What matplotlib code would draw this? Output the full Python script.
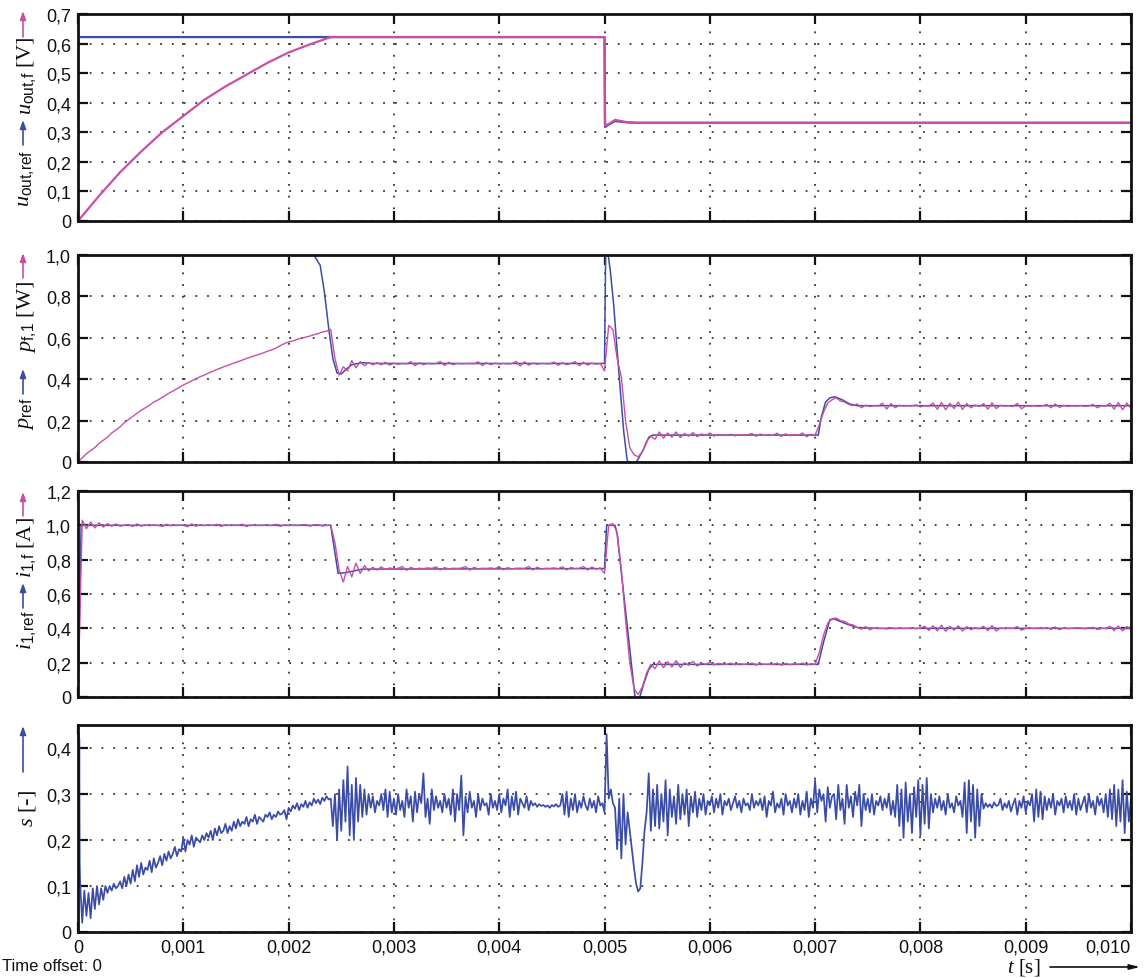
import numpy as np
import matplotlib
matplotlib.use("Agg")
import matplotlib.pyplot as plt
from matplotlib.ticker import FuncFormatter, MultipleLocator

# ---------------- data ----------------
# panel 1: output voltage
u_ref_t = [0, 0.005, 0.005005, 0.00505, 0.0051, 0.0052, 0.0053, 0.01]
u_ref_v = [0.622, 0.622, 0.318, 0.328, 0.338, 0.334, 0.332, 0.332]
u_f_t = [0, 0.0002, 0.0004, 0.0006, 0.0008, 0.001, 0.0012, 0.0014, 0.0016, 0.0018,
         0.002, 0.0022, 0.0024, 0.005, 0.005005, 0.00505, 0.0051, 0.0052, 0.0053, 0.01]
u_f_v = [0, 0.085, 0.165, 0.235, 0.30, 0.355, 0.41, 0.455, 0.495, 0.535,
         0.57, 0.597, 0.622, 0.622, 0.322, 0.33, 0.342, 0.335, 0.332, 0.332]

# panel 2: power
p_ref_t = [0, 0.00224, 0.0023, 0.00234, 0.00238, 0.00242, 0.00246, 0.0025, 0.00255, 0.0026,
           0.0027, 0.0028, 0.005, 0.005012, 0.00503, 0.005056, 0.005088, 0.005119, 0.005151, 0.005183,
           0.005215, 0.00524, 0.00529, 0.005326, 0.005374, 0.005421, 0.00546, 0.00703, 0.00706, 0.0071,
           0.00714, 0.00719, 0.00726, 0.00733, 0.0074, 0.01]
p_ref_v = [1.0, 1.0, 0.95, 0.82, 0.65, 0.50, 0.43, 0.425, 0.45, 0.47,
           0.48, 0.476, 0.476, 1.06, 1.02, 0.92, 0.755, 0.546, 0.34, 0.145,
           0.01, -0.01, -0.01, 0.02, 0.065, 0.12, 0.13, 0.13, 0.22, 0.29,
           0.31, 0.315, 0.30, 0.28, 0.272, 0.272]
p_f_dt = 0.00004
p_f_milli = [0, 20, 40, 55, 70, 90, 105, 120, 140, 155,
             170, 190, 205, 220, 235, 250, 262, 275, 290, 300,
             312, 325, 337, 348, 360, 372, 382, 392, 402, 412,
             420, 430, 438, 447, 455, 463, 470, 478, 485, 492,
             500, 507, 514, 520, 527, 535, 542, 550, 562, 572,
             580, 585, 592, 598, 603, 608, 615, 620, 628, 632,
             640, 500, 420, 460, 440, 490, 455, 485, 465, 480,
             470,
             480, 470, 482, 468, 478, 472, 476, 474, 485, 465,
             480, 470, 476, 474, 475, 486, 466, 482, 470, 476,
             474, 475, 476, 474, 484, 466, 480, 470, 478, 473,
             476, 474, 475, 486, 464, 484, 468, 478, 472, 476,
             475, 474, 483, 467, 480, 470, 476, 485, 465, 482, 468, 478, 472, 476,
             440, 660, 640, 500, 410, 200, 70, 35, 25, 50, 100, 125,
             110, 145, 115, 140, 120, 145, 118, 138, 125, 142,
             122, 136, 128, 140, 125, 132, 130, 128, 134, 126,
             132, 130, 131, 138, 124, 135, 128, 131, 129, 139,
             123, 136, 127, 133, 129, 140, 122, 134,
             130, 180, 240, 285, 300, 310, 295, 290, 278, 272,
             280, 262, 275, 268, 272, 270, 284, 256, 282, 262,
             274, 270, 272, 271, 276, 266, 272, 270, 285, 255,
             288, 252, 284, 258, 290, 254, 282, 262, 276, 268,
             282, 255, 286, 258, 274, 270, 272, 268, 283, 257,
             271, 270, 272, 269, 271, 278, 262, 280, 264, 274,
             268, 272, 270, 273, 269, 271, 278, 262, 272, 270,
             284, 255, 288, 252, 285, 260]

# panel 3: current
i_ref_t = [0, 0.00003, 0.0024, 0.00247, 0.00255, 0.0027, 0.005, 0.00502, 0.0051, 0.00512,
           0.00529, 0.00533, 0.00538, 0.00542, 0.00546, 0.00703, 0.00708, 0.00714, 0.00718, 0.0073,
           0.0074, 0.0076, 0.01]
i_ref_v = [0, 1.0, 1.0, 0.72, 0.725, 0.745, 0.748, 1.0, 1.0, 0.95,
           0.0, -0.01, 0.09, 0.16, 0.19, 0.19, 0.32, 0.45, 0.455, 0.425,
           0.405, 0.4, 0.4]
i_f_dt = 0.00004
i_f_milli = [0, 1030, 980, 1020, 985, 1015, 990, 1010, 995, 1008, 995,
             1000, 1005, 993, 1008, 995, 1003, 998, 1002, 1000, 994,
             1006, 998, 1002, 1000, 1001, 992, 1008, 995, 1004, 999,
             1001, 1000, 1006, 994, 1003, 999, 1001, 1000, 1007, 993,
             1002, 999, 1000, 1001, 999, 1000, 1006, 994, 1003, 999,
             1000, 1001, 1000, 1005, 995, 1002, 1004, 996, 1000, 1001,
             900, 740, 670, 760, 700, 780, 720, 765, 735, 755,
             740, 758, 742, 752, 746, 750, 760, 738, 755, 745,
             750, 748, 752, 749, 758, 740, 754, 746, 750, 749,
             751, 760, 739, 755, 746, 750, 749, 752, 748, 758,
             741, 754, 746, 750, 751, 749, 760, 740, 756, 745,
             750, 749, 752, 747, 758, 741, 754, 748, 750, 760, 740, 757, 744, 752,
             720, 1000, 1010, 960, 740, 450, 200, 50, 15, 60, 140, 190,
             165, 210, 170, 205, 175, 212, 172, 200, 185, 208,
             180, 198, 190, 203, 186, 196, 192, 190, 197, 188,
             194, 190, 192, 198, 186, 195, 190, 192, 189, 198,
             185, 196, 188, 194, 190, 198, 186, 194,
             190, 260, 360, 430, 455, 460, 445, 440, 425, 420,
             405, 395, 410, 392, 402, 398, 400, 396, 404, 398,
             401, 399, 400, 402, 398, 401, 412, 388, 415, 385,
             418, 383, 412, 390, 415, 384, 410, 392, 404, 397,
             412, 386, 416, 384, 402, 398, 401, 399, 410, 389,
             400, 401, 399, 402, 398, 405, 394, 408, 392, 402,
             398, 401, 400, 403, 397, 401, 406, 393, 400, 399,
             412, 386, 414, 385, 410, 392]

# panel 4: s  (first samples form the start-up band at t = 0)
s_start_t = [0, 0.000004, 0.000008, 0.000012, 0.000016]
s_start_milli = [0, 430, 120, 420, 150]
s_dt = 0.00002
s_milli = [430, 110, 20, 90, 35, 85, 30, 95, 50, 100, 60, 95, 70, 100, 85, 100, 90, 105, 95, 100, 110, 95, 120, 100, 125,
           105, 135, 110, 145, 120, 150, 125, 140, 135, 155, 130, 160, 140, 150, 165, 145, 170, 155, 175, 160, 170, 185, 165, 180, 175,
           205, 175, 200, 190, 210, 185, 205, 200, 195, 210, 200, 215, 205, 220, 200, 225, 210, 230, 215, 220, 235, 215, 230, 220, 240,
           225, 245, 230, 240, 235, 250, 230, 245, 240, 255, 235, 250, 245, 240, 255, 250, 260, 245, 255, 250, 262, 255, 258, 265, 245,
           270, 262, 275, 268, 280, 265, 278, 272, 285, 270, 282, 275, 290, 280, 288, 278, 292, 285, 295, 288, 290, 230, 300, 200, 310,
           220, 330, 240, 360, 210, 320, 200, 335, 240, 320, 250, 310, 255, 300, 270, 295, 260, 285, 275, 300, 265, 310, 250, 305, 260,
           290, 255, 300, 265, 285, 250, 310, 270, 295, 240, 305, 260, 300, 280, 345, 250, 290, 235, 310, 265, 295, 270, 285, 260, 300,
           270, 290, 255, 310, 240, 300, 265, 340, 210, 295, 260, 305, 270, 285, 250, 300, 265, 290, 275, 280, 255, 300, 270, 285, 265,
           300, 260, 290, 275, 310, 250, 295, 265, 305, 255, 290, 280, 270, 295, 265, 285, 275, 280, 272, 278, 274, 276, 272, 275, 270,
           276, 273, 278, 272, 275, 300, 255, 305, 250, 290, 265, 300, 260, 285, 270, 295, 275, 265, 290, 270, 285, 260, 295, 275, 280,
           260, 430, 290, 310, 280, 270, 180, 290, 160, 300, 190, 260, 220, 180, 140, 105, 88, 95, 150, 220, 260, 345, 220, 310, 230,
           320, 225, 300, 240, 330, 210, 310, 250, 295, 235, 320, 245, 300, 255, 310, 230, 295, 260, 305, 250, 290, 265, 300, 255, 285,
           275, 295, 260, 290, 270, 300, 255, 285, 275, 290, 265, 280, 295, 270, 285, 260, 290, 275, 280, 265, 300, 270, 285, 275, 290,
           265, 295, 250, 285, 275, 305, 260, 280, 270, 290, 255, 300, 275, 285, 260, 290, 270, 300, 255, 285, 265, 305, 250, 290, 270,
           330, 260, 310, 285, 300, 240, 315, 270, 295, 300, 245, 320, 265, 290, 235, 320, 270, 295, 250, 305, 275, 320, 230, 300, 265,
           290, 260, 300, 255, 285, 275, 295, 265, 290, 270, 300, 255, 285, 250, 320, 230, 310, 205, 325, 240, 300, 215, 315, 250, 330,
           210, 320, 235, 335, 225, 300, 260, 290, 270, 295, 265, 285, 255, 300, 270, 280, 260, 295, 275, 285, 250, 325, 215, 330, 240,
           320, 205, 310, 230, 300, 268, 280, 272, 278, 270, 282, 274, 276, 290, 265, 280, 270, 285, 262, 278, 290, 255, 285, 270, 295,
           260, 285, 275, 300, 240, 310, 250, 305, 245, 295, 265, 290, 270, 300, 255, 285, 275, 290, 260, 295, 270, 285, 265, 300, 255,
           290, 265, 280, 295, 260, 300, 270, 285, 255, 295, 275, 290, 260, 300, 250, 310, 245, 320, 230, 310, 240, 330, 215, 305, 240,
           290]

x_ticks = [0, 0.001, 0.002, 0.003, 0.004, 0.005, 0.006, 0.007, 0.008, 0.009, 0.010]

# ---------------- styling ----------------
BLUE = "#3a4ca6"
PINK = "#c94fa6"
W, H = 1148, 979
plt.rcParams["font.family"] = ["Liberation Sans", "DejaVu Sans"]
plt.rcParams["mathtext.fontset"] = "custom"
plt.rcParams["mathtext.it"] = "Liberation Serif:italic"
plt.rcParams["mathtext.rm"] = "Liberation Sans"
plt.rcParams["mathtext.sf"] = "Liberation Sans"

fig = plt.figure(figsize=(W / 100, H / 100), dpi=100)

def add_axes(top_px, bot_px):
    return fig.add_axes([78 / W, 1 - bot_px / H, (1131 - 78) / W, (bot_px - top_px) / H])

ax1 = add_axes(15, 222)
ax2 = add_axes(256, 463)
ax3 = add_axes(492, 698)
ax4 = add_axes(726, 933)

def yfmt(v, pos):
    if abs(v) < 1e-9:
        return "0"
    return f"{v:.1f}".replace(".", ",")

def xfmt(v, pos):
    if abs(v) < 1e-12:
        return "0"
    return f"{v:.3f}".replace(".", ",")

for ax, (ylo, yhi, ystep) in zip([ax1, ax2, ax3, ax4],
                                 [(0, 0.7, 0.1), (0, 1.0, 0.2), (0, 1.2, 0.2), (0, 0.45, 0.1)]):
    ax.set_xlim(0, 0.01)
    ax.set_ylim(ylo, yhi)
    ax.set_xticks(x_ticks)
    ax.yaxis.set_major_locator(MultipleLocator(ystep))
    ax.yaxis.set_major_formatter(FuncFormatter(yfmt))
    ax.xaxis.set_major_formatter(FuncFormatter(xfmt))
    ax.tick_params(direction="in", length=7, width=1.6, top=True, right=True,
                   labelsize=13, pad=5, colors="#111")
    ax.grid(True, color="#333333", linestyle=(0, (1, 5.5)), linewidth=1.3)
    for sp in ax.spines.values():
        sp.set_linewidth(2.0)
        sp.set_color("#111")
    if ax is not ax4:
        ax.tick_params(labelbottom=False)

# panel 1
ax1.plot(u_ref_t, u_ref_v, color=BLUE, lw=1.6)
ax1.plot(u_f_t, u_f_v, color=PINK, lw=1.6)

# panel 2
p_f_t = np.arange(len(p_f_milli)) * p_f_dt
ax2.plot(p_ref_t, p_ref_v, color=BLUE, lw=1.1)
ax2.plot(p_f_t, np.array(p_f_milli) / 1000, color=PINK, lw=1.0)

# panel 3
i_f_t = np.arange(len(i_f_milli)) * i_f_dt
ax3.plot(i_ref_t, i_ref_v, color=BLUE, lw=1.1)
ax3.plot(i_f_t, np.array(i_f_milli) / 1000, color=PINK, lw=1.0)

# panel 4
s_t = np.concatenate([s_start_t, np.arange(1, len(s_milli)) * s_dt])
s_v = np.array(s_start_milli + s_milli[1:]) / 1000
ax4.plot(s_t, s_v, color=BLUE, lw=1.25)

# last x tick label kept inside the figure (right aligned like the reference)
fig.canvas.draw()
last = ax4.get_xticklabels()[-1]
last.set_horizontalalignment("right")
last.set_x(0.010 + 0.00001)

# ---------------- y labels (rotated, with arrows) ----------------
def vtext(px, py, s, size=16, family="Liberation Serif"):
    fig.text(px / W, 1 - py / H, s, rotation=90, ha="center", va="center",
             fontsize=size, family=family, color="#111")

def varrow(px, py_from, py_to, color):
    ax1.annotate("", xy=(px, H - py_to), xytext=(px, H - py_from),
                 xycoords="figure pixels", textcoords="figure pixels",
                 annotation_clip=False,
                 arrowprops=dict(arrowstyle="-|>,head_length=0.5,head_width=0.18",
                                 color=color, lw=1.2, shrinkA=0, shrinkB=0))

X_T = 27
X_A = 23
# panel 1
vtext(X_T, 178, r"$u_{\mathrm{out{,}ref}}$")
varrow(X_A, 146, 121, BLUE)
vtext(X_T, 76, r"$u_{\mathrm{out{,}f}}$ [V]")
varrow(X_A, 38, 12, PINK)
# panel 2
vtext(X_T, 414, r"$p_{\mathrm{ref}}$")
varrow(X_A, 395, 370, BLUE)
vtext(X_T, 317, r"$p_{\mathrm{f{,}1}}$ [W]")
varrow(X_A, 279, 254, PINK)
# panel 3
vtext(X_T, 630, r"$i_{\mathrm{1{,}ref}}$")
varrow(X_A, 609, 584, BLUE)
vtext(X_T, 548, r"$i_{\mathrm{1{,}f}}$ [A]")
varrow(X_A, 517, 493, PINK)
# panel 4
vtext(X_T, 809, r"$s$ [-]")
varrow(X_A, 773, 727, BLUE)

# ---------------- bottom texts ----------------
fig.text(2 / W, 1 - 967 / H, "Time offset: 0", ha="left", va="center", fontsize=12, color="#111")
fig.text(1040 / W, 1 - 968 / H, r"$t$ [s]", ha="right", va="center", fontsize=15,
         family="Liberation Serif", color="#111")
ax1.annotate("", xy=(1140, H - 968), xytext=(1050, H - 968),
             xycoords="figure pixels", textcoords="figure pixels", annotation_clip=False,
             arrowprops=dict(arrowstyle="-|>,head_length=0.6,head_width=0.15",
                             color="#111", lw=1.2, shrinkA=0, shrinkB=0))

fig.savefig("out.png", dpi=100)
